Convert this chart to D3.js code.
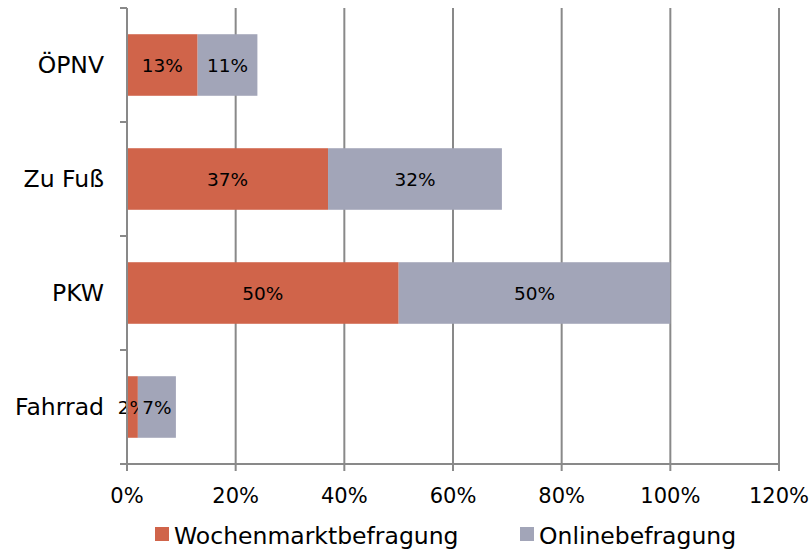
<!DOCTYPE html>
<meta charset="utf-8">
<head>
  <title>Verkehrsmittel</title>
  <style>
    body { margin: 0; background: #fff; }
    text { font-family: "DejaVu Sans", sans-serif; fill: #000; }
  </style>
</head>
<script src="https://d3js.org/d3.v7.min.js"></script>
<svg id="chart" width="811" height="550"></svg>
<script>
// data, top to bottom
var categories = ["ÖPNV", "Zu Fuß", "PKW", "Fahrrad"]
var wochenmarkt = [13, 37, 50, 2]
var online = [11, 32, 50, 7]
var series = ["Wochenmarktbefragung", "Onlinebefragung"]
var colors = ["#d0644a", "#a2a5b8"]
var xTicks = [0, 20, 40, 60, 80, 100, 120]

var svg = d3.select("#chart")
var mLeft = 127, mRight = 779, mTop = 8, mBottom = 464

var x = d3.scaleLinear().domain([0, 120]).range([mLeft, mRight])
var y = d3.scaleBand().domain(categories).range([mTop, mBottom]).paddingInner(0.46).paddingOuter(0.23)

// vertical gridlines
svg.append("g").selectAll("line").data(xTicks.slice(1)).enter().append("line")
  .attr("x1", d => x(d)).attr("x2", d => x(d))
  .attr("y1", mTop).attr("y2", mBottom + 7)
  .attr("stroke", "#898989").attr("stroke-width", 2)

// stacked bars
var rows = categories.map((c, i) => ({cat: c, vals: [wochenmarkt[i], online[i]]}))
var bars = svg.append("g")
rows.forEach(r => {
  var start = 0
  r.vals.forEach((v, j) => {
    bars.append("rect")
      .attr("x", x(start)).attr("y", y(r.cat))
      .attr("width", x(start + v) - x(start)).attr("height", y.bandwidth())
      .attr("fill", colors[j])
    bars.append("text")
      .attr("x", (x(start) + x(start + v)) / 2)
      .attr("y", y(r.cat) + y.bandwidth() / 2 + 7)
      .attr("text-anchor", "middle")
      .style("font-size", "18.5px")
      .text(v + "%")
    start += v
  })
})

// y axis line with ticks between categories
var yb = svg.append("g")
yb.append("line").attr("x1", mLeft).attr("x2", mLeft).attr("y1", mTop).attr("y2", mBottom)
  .attr("stroke", "#898989").attr("stroke-width", 2)
var step = (mBottom - mTop) / categories.length
d3.range(categories.length + 1).forEach(i => {
  yb.append("line").attr("x1", mLeft - 7).attr("x2", mLeft)
    .attr("y1", mTop + i * step).attr("y2", mTop + i * step)
    .attr("stroke", "#898989").attr("stroke-width", 2)
})
yb.selectAll("text.cat").data(categories).enter().append("text")
  .attr("class", "cat")
  .attr("x", 104).attr("y", d => y(d) + y.bandwidth() / 2 + 8)
  .attr("text-anchor", "end")
  .style("font-size", "23.5px")
  .text(d => d)

// x axis
var xa = svg.append("g")
xa.append("line").attr("x1", mLeft).attr("x2", mRight).attr("y1", mBottom).attr("y2", mBottom)
  .attr("stroke", "#898989").attr("stroke-width", 2)
xa.append("line").attr("x1", mLeft).attr("x2", mLeft).attr("y1", mBottom).attr("y2", mBottom + 7)
  .attr("stroke", "#898989").attr("stroke-width", 2)
xa.selectAll("text").data(xTicks).enter().append("text")
  .attr("x", d => x(d)).attr("y", 503)
  .attr("text-anchor", "middle")
  .style("font-size", "21px")
  .text(d => d + "%")

// legend
var legX = [155, 520]
var leg = svg.append("g")
series.forEach((s, i) => {
  leg.append("rect").attr("x", legX[i]).attr("y", 527).attr("width", 14).attr("height", 14)
    .attr("fill", colors[i])
  leg.append("text").attr("x", legX[i] + 19).attr("y", 544)
    .style("font-size", "23.5px").text(s)
})
</script>
